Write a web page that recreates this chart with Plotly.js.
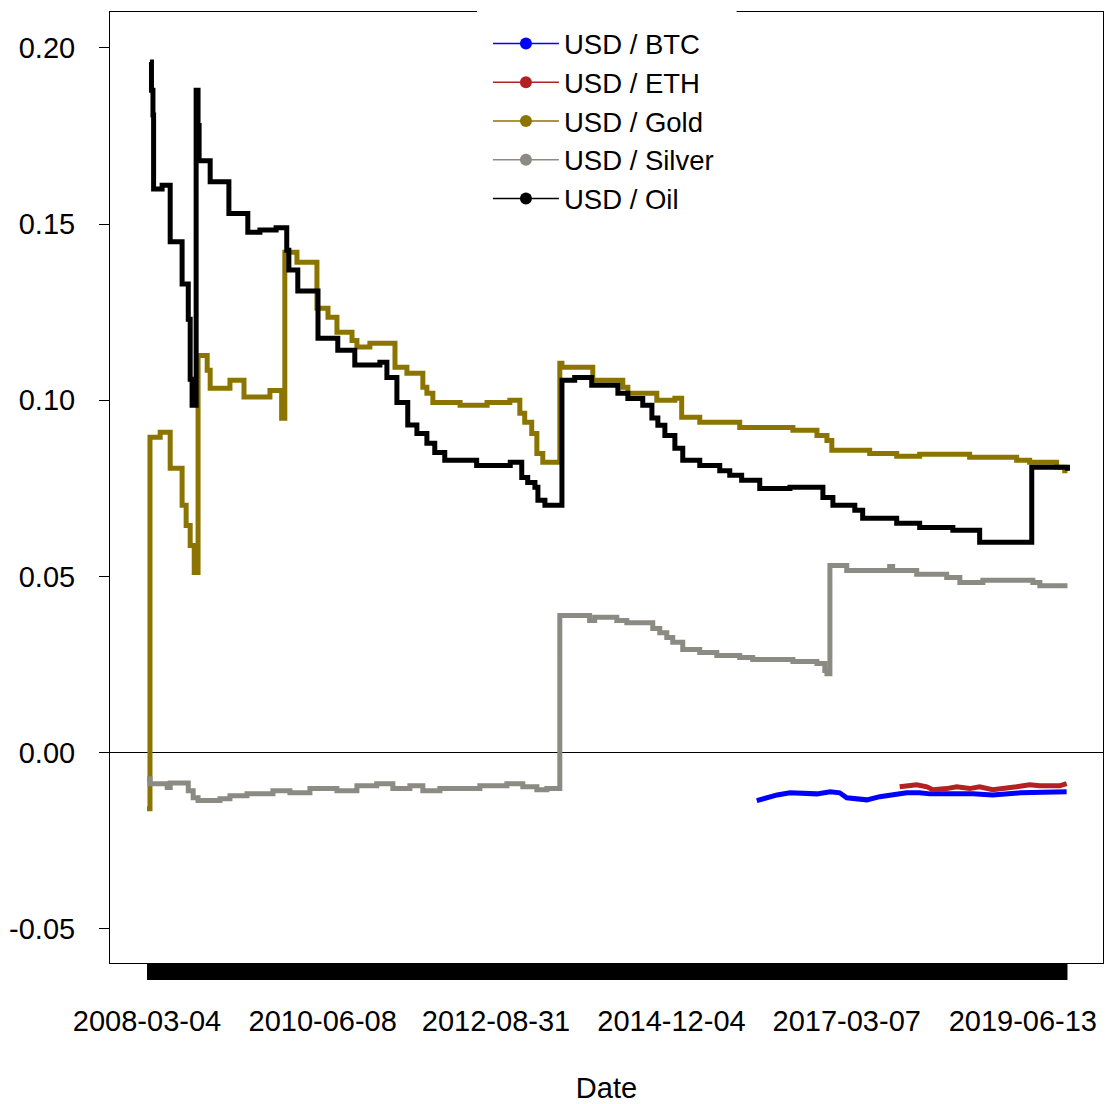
<!DOCTYPE html>
<html><head><meta charset="utf-8">
<script src="https://cdn.plot.ly/plotly-3.0.1.min.js"></script>
<style>body{margin:0;background:#fff}#chart{width:1107px;height:1104px}</style>
</head><body><div id="chart"></div>
<script>
const seriesNames = ['USD / BTC','USD / ETH','USD / Gold','USD / Silver','USD / Oil'];
const seriesColors = ['#0000FF','#B22222','#8B7500','#8B8B83','#000000'];

const btcDates = ['2016-01-09','2016-02-25','2016-04-14','2016-06-13','2016-08-14','2016-10-18','2016-12-19','2017-02-02','2017-03-07','2017-05-08','2017-06-10','2017-08-09','2017-10-09','2017-12-14','2018-02-13','2018-04-02','2018-10-21','2019-01-22','2019-06-01','2020-01-05'];
const btcValues = [-0.0136,-0.0128,-0.012,-0.0114,-0.0117,-0.0117,-0.0111,-0.0114,-0.0128,-0.0134,-0.0134,-0.0125,-0.012,-0.0114,-0.0114,-0.0117,-0.0117,-0.012,-0.0114,-0.0111];

const ethDates = ['2017-11-11','2018-01-30','2018-03-19','2018-04-16','2018-06-20','2018-08-06','2018-10-06','2018-11-22','2019-01-22','2019-03-30','2019-05-15','2019-07-15','2019-09-01','2019-12-03','2020-01-05'];
const ethValues = [-0.0097,-0.0091,-0.0097,-0.0105,-0.0102,-0.0097,-0.0102,-0.0097,-0.0105,-0.0102,-0.0097,-0.0091,-0.0094,-0.0094,-0.0088];

const goldDates = ['2008-03-04','2008-03-18','2008-05-05','2008-06-21','2008-08-16','2008-09-04','2008-09-23','2008-10-12','2008-10-30','2008-12-12','2008-12-26','2009-03-29','2009-06-03','2009-10-03','2009-11-27','2009-12-12','2010-02-07','2010-05-12','2010-07-03','2010-08-14','2010-10-24','2010-11-16','2011-01-16','2011-05-14','2011-07-09','2011-09-22','2011-10-11','2011-11-08','2012-03-15','2012-07-20','2012-11-04','2012-12-21','2013-01-13','2013-02-15','2013-03-11','2013-04-08','2013-06-27','2013-07-07','2013-11-29','2014-04-19','2014-05-13','2014-09-26','2014-12-20','2015-01-21','2015-04-16','2015-10-21','2016-06-27','2016-10-18','2016-12-04','2016-12-27','2017-06-23','2017-10-28','2018-02-13','2018-10-06','2019-05-15','2019-07-15','2019-11-19','2019-12-27','2020-01-09'];
const goldValues = [-0.0159,0.0895,0.0909,0.0807,0.0702,0.0645,0.0588,0.0511,0.1127,0.1085,0.1034,0.1057,0.1009,0.1028,0.0949,0.142,0.1392,0.1261,0.1236,0.1193,0.117,0.1151,0.1162,0.1094,0.1077,0.1037,0.102,0.0994,0.0986,0.0994,0.100,0.0963,0.0938,0.0906,0.0849,0.0824,0.1105,0.1094,0.1057,0.1037,0.102,0.100,0.1006,0.0952,0.0938,0.0923,0.0915,0.090,0.0886,0.0858,0.0849,0.0841,0.0847,0.0838,0.083,0.0824,0.081,0.080,0.080];

const silverDates = ['2008-03-04','2008-03-18','2008-06-07','2008-06-21','2008-09-14','2008-10-07','2008-10-30','2009-02-10','2009-03-29','2009-06-17','2009-10-17','2010-01-05','2010-04-09','2010-08-14','2010-11-16','2011-02-17','2011-05-04','2011-07-23','2011-09-22','2011-12-11','2012-06-16','2012-10-21','2013-01-04','2013-03-11','2013-04-27','2013-06-27','2013-11-14','2013-12-08','2014-03-22','2014-05-08','2014-09-07','2014-10-10','2014-11-12','2014-12-10','2015-01-26','2015-04-16','2015-07-05','2015-10-21','2015-12-21','2016-06-27','2016-10-18','2016-11-24','2016-12-04','2016-12-18','2017-03-07','2017-09-25','2017-10-09','2018-01-30','2018-06-20','2018-08-21','2018-12-07','2019-07-30','2019-09-01','2020-01-09'];
const silverValues = [-0.0074,-0.0088,-0.0099,-0.0086,-0.0108,-0.0128,-0.0136,-0.0131,-0.0122,-0.0117,-0.0108,-0.0114,-0.0102,-0.0108,-0.0094,-0.0088,-0.0102,-0.0094,-0.0108,-0.0102,-0.0094,-0.0088,-0.0097,-0.0105,-0.0102,0.0389,0.0375,0.0384,0.0375,0.0369,0.0352,0.034,0.0327,0.0313,0.0293,0.0284,0.0276,0.027,0.0264,0.0259,0.0253,0.0233,0.0224,0.0531,0.0517,0.0528,0.0517,0.0506,0.0497,0.0483,0.0489,0.0483,0.0474,0.0474];

const oilDates = ['2008-03-18','2008-03-25','2008-04-01','2008-04-04','2008-05-14','2008-06-21','2008-08-16','2008-09-14','2008-09-23','2008-10-02','2008-10-21','2008-10-30','2008-11-04','2008-12-26','2009-03-24','2009-06-21','2009-08-17','2009-11-01','2009-12-21','2009-12-31','2010-02-11','2010-05-17','2010-08-18','2010-11-06','2011-03-04','2011-04-06','2011-05-23','2011-07-13','2011-08-25','2011-10-11','2011-11-17','2012-01-03','2012-06-01','2012-11-06','2012-12-30','2013-01-27','2013-03-02','2013-03-16','2013-04-18','2013-07-07','2013-09-05','2013-11-24','2014-03-27','2014-05-13','2014-07-22','2014-09-03','2014-10-01','2014-11-03','2014-12-20','2015-01-26','2015-04-16','2015-07-19','2015-09-04','2015-10-30','2016-01-23','2016-06-13','2016-11-15','2017-01-01','2017-04-14','2017-05-21','2017-10-28','2018-02-13','2018-07-19','2018-11-22','2019-07-25','2020-01-09'];
const oilValues = [0.196,0.188,0.181,0.160,0.161,0.145,0.133,0.123,0.106,0.0986,0.188,0.178,0.168,0.162,0.153,0.1477,0.1483,0.149,0.1426,0.137,0.131,0.1176,0.1142,0.110,0.1108,0.1065,0.0994,0.093,0.0906,0.0878,0.0852,0.083,0.0815,0.0824,0.0781,0.0767,0.0753,0.0716,0.0702,0.1057,0.1065,0.1043,0.102,0.1005,0.0986,0.095,0.0929,0.090,0.0864,0.083,0.0815,0.080,0.0787,0.0773,0.075,0.0753,0.0724,0.0702,0.0688,0.0665,0.0651,0.0639,0.0631,0.0597,0.081,0.080];

const xTickDates = ['2008-03-04','2010-06-08','2012-08-31','2014-12-04','2017-03-07','2019-06-13'];
const yTickVals = [-0.05,0,0.05,0.10,0.15,0.20];
const yTickText = ['-0.05','0.00','0.05','0.10','0.15','0.20'];

const allDates = [btcDates, ethDates, goldDates, silverDates, oilDates];
const allValues = [btcValues, ethValues, goldValues, silverValues, oilValues];
const shapes = ['linear','linear','hv','hv','hv'];

const traces = [];
allDates.forEach((d, i) => {
  traces.push({x: d, y: allValues[i], type: 'scatter', mode: 'lines', showlegend: false,
    line: {color: seriesColors[i], width: 5, shape: shapes[i]}, hoverinfo: 'skip'});
});
seriesNames.forEach((n, i) => {
  traces.push({x: [null], y: [null], type: 'scatter', mode: 'lines+markers', name: n,
    line: {color: seriesColors[i], width: 1.5}, marker: {color: seriesColors[i], size: 12}});
});

const flat = allDates.flat().slice().sort();
const firstDate = flat[0], lastDate = flat[flat.length - 1];

const font = {family: 'Liberation Sans, Arial, sans-serif', size: 29, color: '#000'};
const legendFont = {family: 'Liberation Sans, Arial, sans-serif', size: 27.5, color: '#000'};
const layout = {
  width: 1107, height: 1104,
  margin: {l: 110, r: 4, t: 12, b: 141},
  paper_bgcolor: '#fff', plot_bgcolor: '#fff',
  font: font,
  showlegend: true,
  legend: {x: 0.3806, y: 0.9925, xanchor: 'left', yanchor: 'top', bgcolor: '#fff',
    borderwidth: 0, font: legendFont, itemwidth: 66, tracegroupgap: 0},
  xaxis: {type: 'date', range: ['2007-09-12', '2020-06-24'], tickvals: xTickDates, ticktext: xTickDates,
    ticks: '', showgrid: false, zeroline: false, showline: true, mirror: true, linecolor: '#000', linewidth: 1,
    ticklabelstandoff: 32, tickfont: font,
    title: {text: 'Date', font: font, standoff: 44}},
  yaxis: {range: [-0.0597, 0.2102], tickvals: yTickVals, ticktext: yTickText, ticks: 'outside', ticklen: 10,
    tickcolor: '#000', tickwidth: 1, showgrid: false, zeroline: true, zerolinecolor: '#000', zerolinewidth: 1,
    showline: true, mirror: true, linecolor: '#000', linewidth: 1, tickfont: font, ticklabelstandoff: 18},
  shapes: [
    {type: 'rect', xref: 'x', yref: 'paper', x0: firstDate, x1: lastDate, y0: -17/951, y1: 0,
      fillcolor: '#000', line: {width: 0}, layer: 'above'},
    {type: 'rect', xref: 'paper', yref: 'paper', x0: 0.3696, x1: 0.631, y0: 0.985, y1: 1.004,
      fillcolor: '#fff', line: {width: 0}, layer: 'above'}
  ]
};
Plotly.newPlot('chart', traces, layout, {displayModeBar: false, staticPlot: true});
</script></body></html>
